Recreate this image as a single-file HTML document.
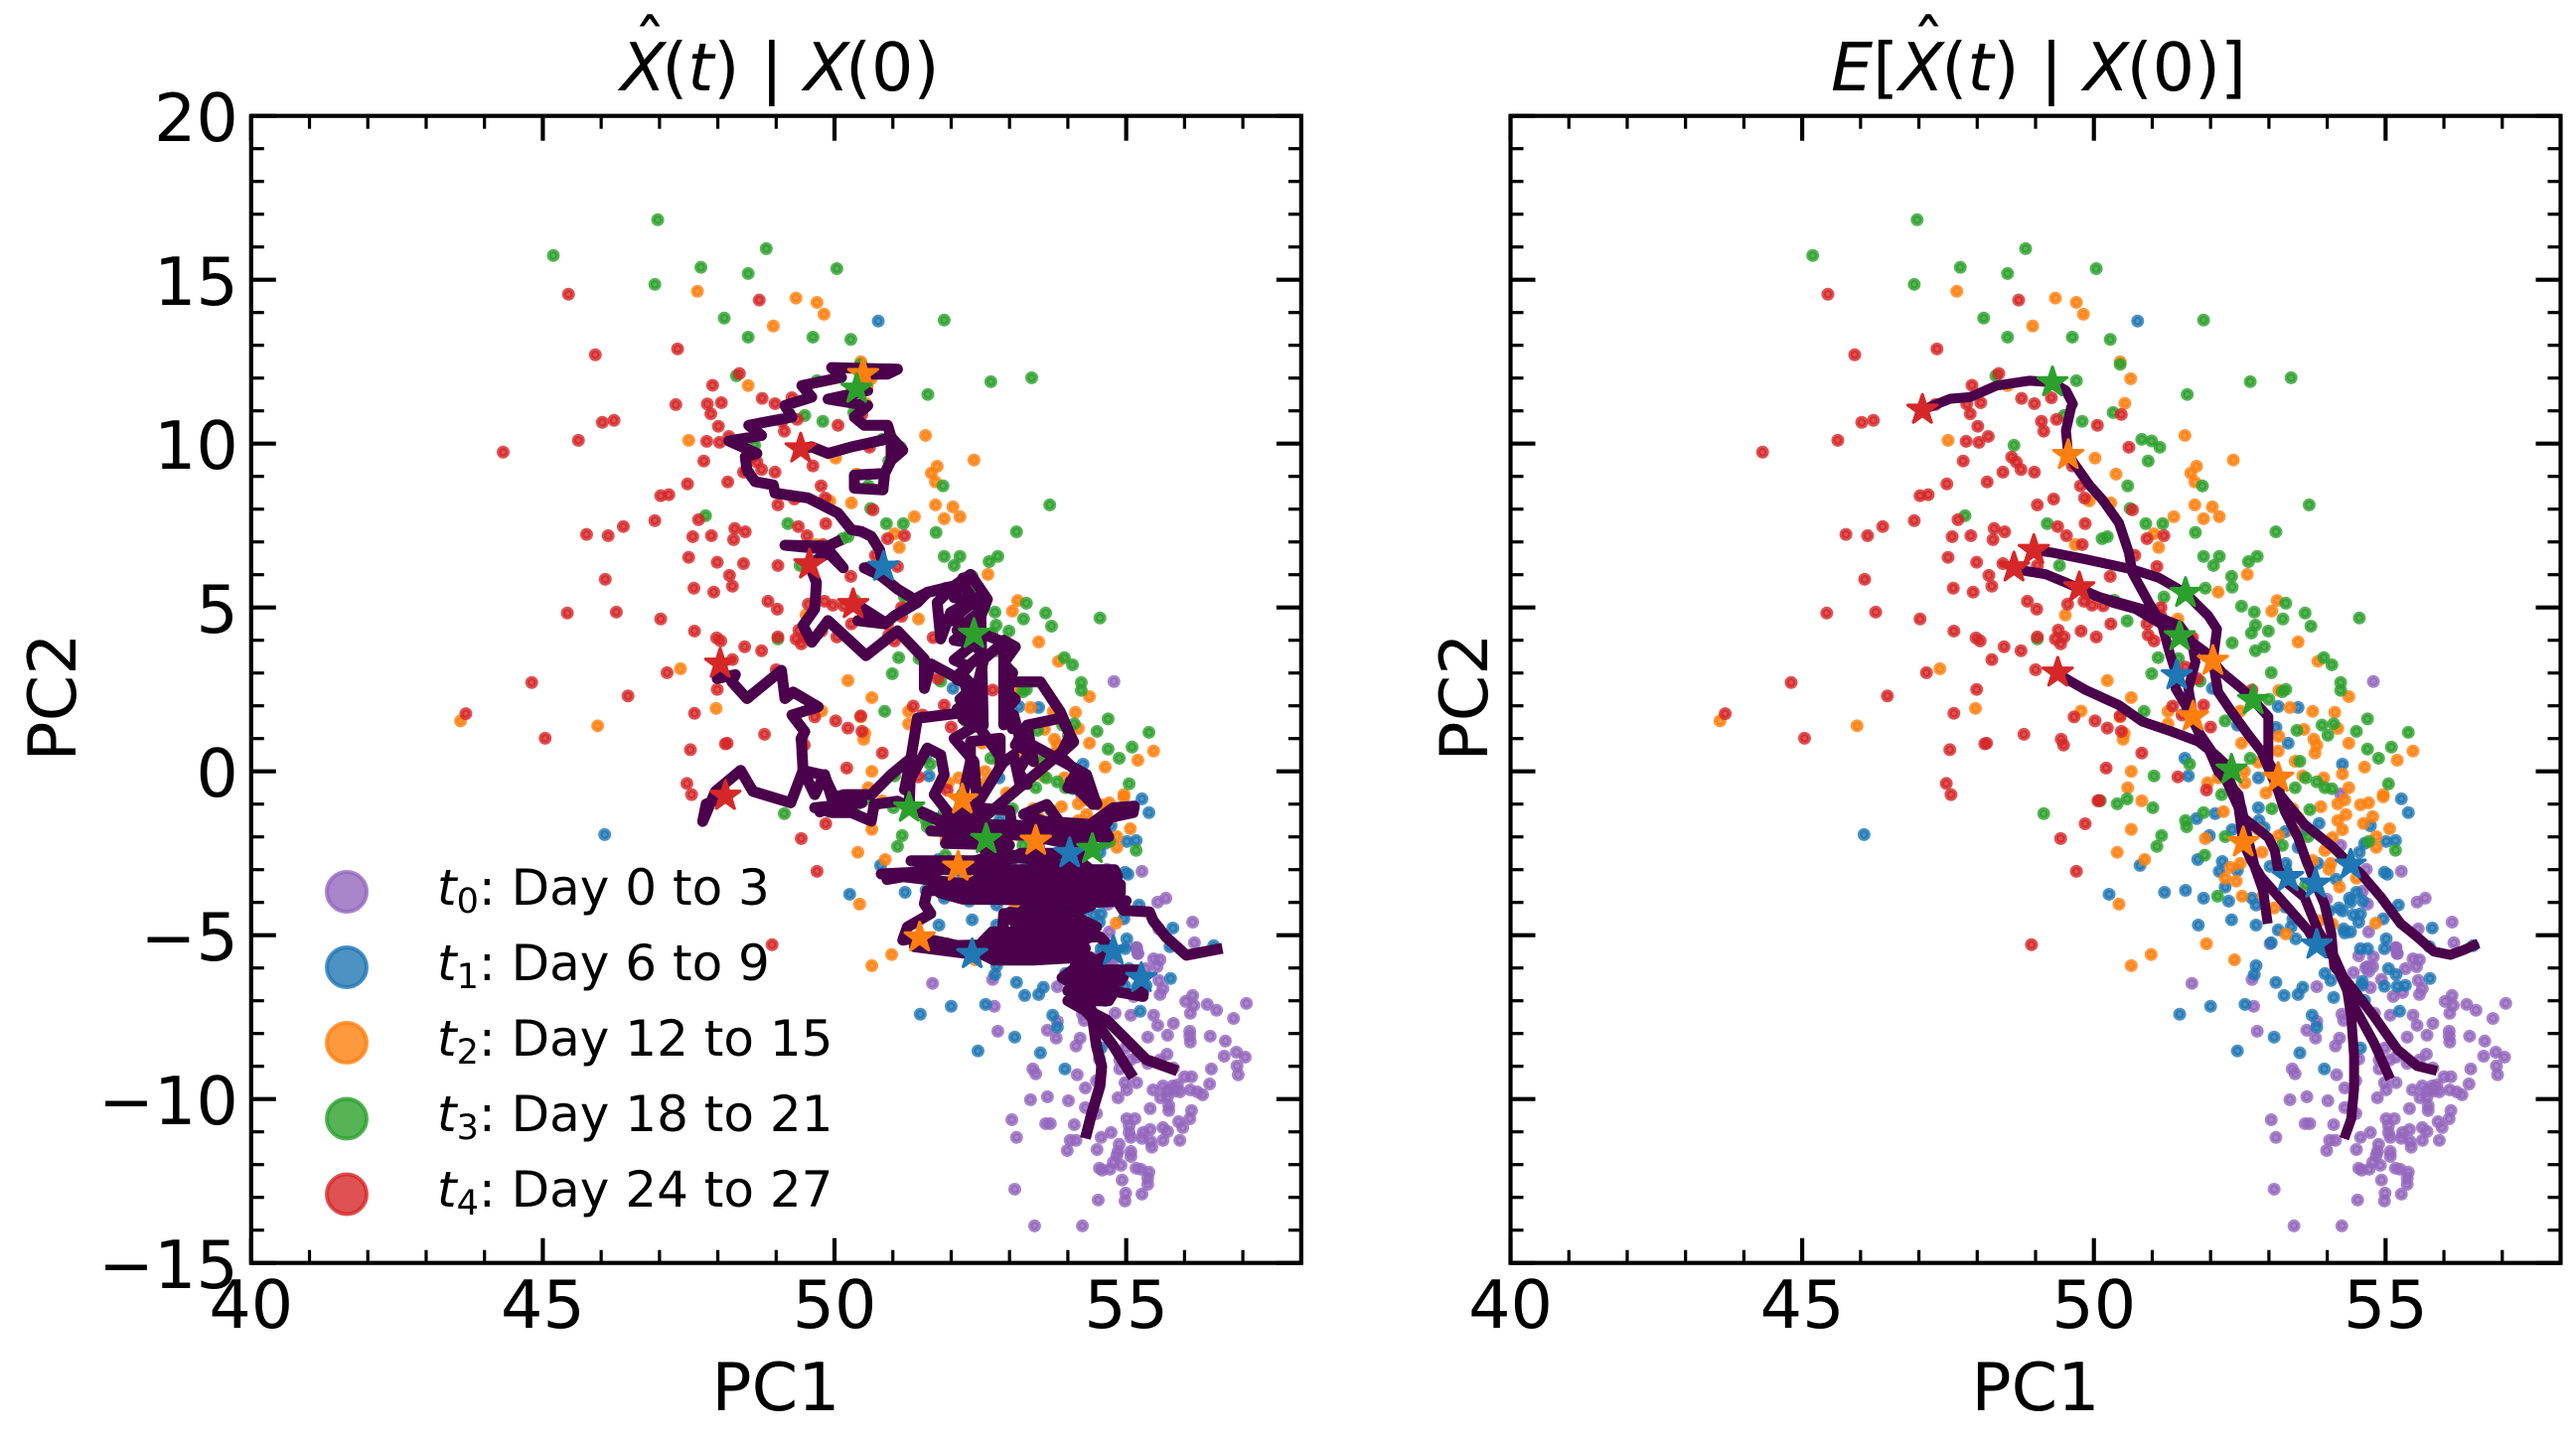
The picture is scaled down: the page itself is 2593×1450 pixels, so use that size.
<!DOCTYPE html>
<html lang="en">
<head>
<meta charset="utf-8">
<title>PC1 vs PC2 trajectories</title>
<style>
html,body{margin:0;padding:0;background:#fff;}
svg{display:block;}
text{font-family:"DejaVu Sans","Liberation Sans",sans-serif;fill:#000;}
.m{font-size:66.7px;}
.l{font-size:50px;}
</style>
</head>
<body>
<svg id="figure" xmlns="http://www.w3.org/2000/svg" width="2593" height="1450" viewBox="0 0 2593 1450">
<rect x="0" y="0" width="2593" height="1450" fill="#fff"/>
<g id="panel-left"></g>
<g id="panel-right"></g>

<text class="m" x="785" y="91" text-anchor="middle" xml:space="preserve"><tspan font-style="italic">X</tspan><tspan dx="-4">(</tspan><tspan font-style="italic">t</tspan>) | <tspan font-style="italic">X</tspan><tspan dx="-4">(</tspan>0)</text>
<text class="m" x="654" y="68" text-anchor="middle">ˆ</text>
<text class="m" x="2052" y="91" text-anchor="middle" xml:space="preserve"><tspan font-style="italic">E</tspan>[<tspan font-style="italic">X</tspan><tspan dx="-2.5">(</tspan><tspan font-style="italic">t</tspan>) | <tspan font-style="italic">X</tspan><tspan dx="-2.5">(</tspan>0)]</text>
<text class="m" x="1941" y="68" text-anchor="middle">ˆ</text>

<text class="m" x="781" y="1420" text-anchor="middle">PC1</text>
<text class="m" x="2049" y="1420" text-anchor="middle">PC1</text>
<text class="m" transform="translate(76 702) rotate(-90)" text-anchor="middle">PC2</text>
<text class="m" transform="translate(1497 702) rotate(-90)" text-anchor="middle">PC2</text>

<g id="legend">
  <circle cx="349" cy="898" r="20" fill="#9467bd" fill-opacity="0.8" stroke="#9467bd" stroke-opacity="0.8" stroke-width="4"/>
  <circle cx="349" cy="974" r="20" fill="#1f77b4" fill-opacity="0.8" stroke="#1f77b4" stroke-opacity="0.8" stroke-width="4"/>
  <circle cx="349" cy="1050" r="20" fill="#ff7f0e" fill-opacity="0.8" stroke="#ff7f0e" stroke-opacity="0.8" stroke-width="4"/>
  <circle cx="349" cy="1126.5" r="20" fill="#2ca02c" fill-opacity="0.8" stroke="#2ca02c" stroke-opacity="0.8" stroke-width="4"/>
  <circle cx="349" cy="1202.5" r="20" fill="#d62728" fill-opacity="0.8" stroke="#d62728" stroke-opacity="0.8" stroke-width="4"/>
  <text class="l" x="440" y="911" xml:space="preserve"><tspan font-style="italic">t</tspan><tspan font-size="35" dy="8">0</tspan><tspan dy="-8">: Day 0 to 3</tspan></text>
  <text class="l" x="440" y="987" xml:space="preserve"><tspan font-style="italic">t</tspan><tspan font-size="35" dy="8">1</tspan><tspan dy="-8">: Day 6 to 9</tspan></text>
  <text class="l" x="440" y="1063" xml:space="preserve"><tspan font-style="italic">t</tspan><tspan font-size="35" dy="8">2</tspan><tspan dy="-8">: Day 12 to 15</tspan></text>
  <text class="l" x="440" y="1139" xml:space="preserve"><tspan font-style="italic">t</tspan><tspan font-size="35" dy="8">3</tspan><tspan dy="-8">: Day 18 to 21</tspan></text>
  <text class="l" x="440" y="1215" xml:space="preserve"><tspan font-style="italic">t</tspan><tspan font-size="35" dy="8">4</tspan><tspan dy="-8">: Day 24 to 27</tspan></text>
</g>
</svg>
<script>
// ---- tick labels ----
const xTickValues = [40, 45, 50, 55];
const xTickLabels = ["40", "45", "50", "55"];
const yTickValues = [-15, -10, -5, 0, 5, 10, 15, 20];
const yTickLabels = ["\u221215", "\u221210", "\u22125", "0", "5", "10", "15", "20"];
const xMinorValues = [41,42,43,44,46,47,48,49,51,52,53,54,56,57];
const yMinorValues = [-14,-13,-12,-11,-9,-8,-7,-6,-4,-3,-2,-1,1,2,3,4,6,7,8,9,11,12,13,14,16,17,18,19];

// ---- scatter series (PC1, PC2) ----
const t0Points = [[51.68,-6.47],[52.71,-6.35],[52.74,-7.17],[52.80,-7.93],[53.82,-6.57],[54.25,-7.41],[54.28,-7.60],[53.82,-7.63],[53.65,-7.90],[53.80,-8.14],[54.21,-8.14],[54.14,-8.38],[54.54,-5.63],[54.79,-5.66],[55.20,-5.56],[55.17,-5.38],[55.47,-5.72],[55.58,-5.75],[55.53,-5.96],[55.34,-6.02],[54.66,-5.99],[54.78,-5.96],[54.71,-6.11],[54.45,-6.14],[54.93,-6.35],[55.56,-6.38],[55.63,-6.63],[55.58,-6.81],[55.29,-6.75],[55.13,-6.87],[54.74,-6.60],[56.14,-6.84],[56.02,-7.02],[56.16,-7.14],[56.10,-7.38],[56.39,-7.11],[56.55,-7.29],[57.06,-7.08],[56.84,-7.54],[55.08,-7.44],[54.81,-7.38],[55.47,-7.44],[55.54,-7.75],[55.81,-7.69],[55.71,-8.05],[55.37,-8.11],[56.09,-7.93],[56.09,-8.08],[56.10,-8.26],[56.44,-8.08],[56.70,-8.23],[56.89,-8.57],[57.04,-8.72],[56.68,-8.69],[56.90,-8.99],[56.92,-9.26],[56.46,-9.08],[56.43,-9.54],[55.70,-8.63],[55.58,-8.81],[55.81,-9.05],[55.07,-8.81],[55.18,-8.72],[55.37,-8.91],[54.99,-8.44],[54.89,-8.81],[54.89,-9.08],[54.54,-8.78],[54.16,-9.26],[54.30,-9.66],[54.49,-9.44],[54.98,-9.50],[55.18,-9.50],[55.01,-9.72],[54.86,-9.96],[53.45,-9.23],[53.40,-9.08],[53.36,-10.02],[53.65,-9.93],[54.01,-10.05],[54.30,-10.26],[54.49,-10.44],[53.04,-10.63],[53.12,-11.17],[53.62,-10.75],[53.70,-10.75],[54.11,-10.78],[54.04,-11.26],[54.14,-11.26],[53.99,-11.57],[54.57,-11.17],[54.74,-11.02],[54.50,-11.54],[54.88,-11.38],[54.86,-11.60],[54.84,-11.72],[55.08,-11.60],[55.08,-11.75],[54.78,-11.93],[54.91,-12.02],[54.54,-12.11],[54.59,-12.17],[54.72,-12.14],[55.17,-12.11],[55.25,-12.14],[55.39,-12.23],[55.37,-12.41],[55.37,-12.60],[54.93,-12.47],[54.99,-12.87],[54.98,-13.11],[55.27,-12.90],[54.52,-13.08],[53.09,-12.75],[53.43,-13.87],[54.25,-13.87],[55.01,-10.60],[55.15,-10.60],[55.05,-10.81],[55.05,-11.02],[55.08,-11.17],[55.29,-11.02],[55.27,-11.20],[55.41,-10.93],[55.42,-11.29],[55.44,-11.47],[55.63,-10.87],[55.71,-10.99],[55.63,-11.26],[55.92,-11.26],[55.90,-10.69],[55.97,-10.87],[56.09,-10.60],[56.12,-10.35],[55.41,-10.29],[55.73,-10.35],[55.73,-10.20],[55.46,-9.72],[55.63,-9.60],[55.80,-9.60],[55.88,-9.57],[55.71,-9.75],[55.83,-9.75],[55.92,-9.78],[55.59,-9.96],[55.71,-9.93],[56.00,-9.32],[56.12,-9.32],[56.10,-9.72],[56.22,-9.78],[56.31,-9.87],[54.23,-0.69],[54.23,-2.26],[54.67,-2.99],[55.27,-3.05],[54.60,-3.66],[54.69,-4.05],[53.99,-3.90],[55.54,-3.99],[55.68,-3.87],[56.14,-4.60],[55.56,-4.81],[54.71,-4.90],[56.17,-5.23],[53.02,-5.26],[54.79,2.74],[55.20,-5.56],[55.18,-5.38],[54.69,-5.96]];
const t1Points = [[50.75,13.74],[46.06,-1.93],[52.03,2.53],[53.16,1.98],[53.50,1.95],[53.12,1.34],[53.33,0.86],[52.46,1.41],[51.56,0.40],[51.62,-0.14],[52.82,-0.20],[54.26,0.22],[55.27,-0.84],[55.39,-1.26],[52.82,-1.11],[51.76,-1.44],[52.08,-1.29],[52.83,-1.50],[52.92,-1.72],[52.37,-1.78],[51.98,-1.96],[51.78,-2.69],[52.20,-2.75],[52.15,-3.05],[52.46,-3.02],[52.25,-3.53],[50.79,-2.87],[50.26,-3.75],[51.21,-3.69],[51.57,-3.63],[51.88,-3.87],[52.31,-3.96],[52.71,-3.87],[52.78,-4.08],[51.79,-4.69],[52.36,-4.53],[52.78,-4.69],[53.16,-4.84],[53.38,-4.75],[53.41,-4.50],[53.46,-5.11],[53.04,-5.23],[53.28,-4.14],[53.86,-1.59],[53.62,-1.78],[53.28,-1.84],[53.50,-2.32],[53.02,-2.90],[53.29,-2.81],[53.84,-2.81],[54.15,-3.29],[54.55,-2.47],[54.64,-2.20],[54.74,-1.66],[55.01,-2.14],[55.17,-2.11],[54.98,-3.08],[55.03,-3.14],[54.38,-3.87],[54.50,-3.69],[54.40,-3.99],[54.61,-3.96],[55.22,-4.08],[54.20,-4.17],[54.26,-4.26],[54.03,-4.26],[54.45,-4.38],[54.57,-4.35],[54.54,-4.60],[54.96,-4.50],[54.28,-4.81],[54.30,-4.93],[54.40,-4.90],[55.80,-4.78],[55.01,-5.11],[54.57,-5.41],[54.69,-5.41],[54.98,-5.41],[56.50,-5.32],[55.75,-5.35],[52.78,-5.93],[52.75,-6.20],[53.12,-6.44],[53.58,-6.59],[53.50,-6.81],[53.26,-6.84],[53.96,-6.17],[54.06,-6.38],[54.11,-6.90],[55.05,-6.02],[55.18,-6.20],[54.60,-6.41],[54.59,-6.53],[54.98,-6.56],[55.20,-6.56],[55.34,-6.53],[55.76,-6.32],[54.64,-6.99],[55.24,-7.32],[52.59,-7.11],[52.00,-7.17],[51.47,-7.41],[53.74,-7.44],[53.82,-7.81],[53.09,-8.11],[52.46,-8.53],[53.53,-8.59],[54.57,-8.44],[53.95,-9.08]];
const t2Points = [[47.65,14.65],[49.34,14.44],[49.70,14.31],[49.82,13.95],[48.95,13.59],[48.52,11.77],[47.50,10.10],[49.68,6.92],[49.51,4.77],[47.36,3.13],[43.59,1.54],[45.94,1.39],[47.97,1.92],[50.45,12.50],[50.63,11.98],[50.53,11.23],[51.56,10.25],[52.39,9.50],[50.02,9.56],[50.38,9.07],[51.76,9.31],[51.66,9.10],[51.73,8.83],[50.29,8.19],[49.92,8.25],[51.73,8.13],[52.03,8.07],[51.88,7.71],[52.15,7.77],[51.37,7.77],[51.03,7.25],[51.11,6.83],[52.63,6.01],[52.13,5.47],[53.14,5.21],[53.05,4.89],[51.44,4.65],[53.50,3.95],[53.84,3.36],[50.23,2.77],[53.17,2.47],[50.64,2.25],[54.37,2.28],[53.36,1.95],[53.75,1.83],[54.13,1.80],[49.78,1.84],[51.27,1.83],[50.45,1.66],[52.51,1.84],[51.27,1.45],[53.60,1.28],[54.18,1.31],[50.52,1.16],[50.50,0.98],[53.17,1.07],[52.53,0.86],[53.77,0.98],[53.82,0.80],[53.79,0.56],[53.16,0.62],[54.37,0.86],[55.20,0.34],[55.47,0.62],[54.64,0.13],[54.26,-0.08],[53.45,0.31],[52.82,0.28],[52.58,0.00],[50.64,0.00],[50.58,-0.50],[51.95,-0.35],[53.58,-0.14],[53.94,-0.20],[54.37,-0.50],[54.96,-0.71],[52.13,-0.20],[52.59,-0.35],[52.95,-0.66],[50.82,-0.90],[50.64,-1.77],[50.40,-2.47],[50.87,-2.69],[50.43,-4.05],[51.93,-5.26],[50.98,-5.59],[50.64,-5.93],[52.41,-5.75],[52.22,-1.23],[51.91,-2.05],[52.34,-2.93],[52.51,-2.81],[52.25,-3.26],[52.44,-3.35],[52.54,-3.81],[52.88,-2.47],[52.90,-3.78],[53.09,-4.17],[53.29,-4.96],[53.17,-1.96],[53.45,-1.84],[53.50,-1.41],[53.89,-1.08],[54.18,-0.99],[54.30,-0.87],[54.32,-1.32],[54.18,-1.50],[54.26,-1.78],[54.09,-2.02],[53.96,-2.41],[53.75,-2.72],[54.06,-2.81],[54.03,-2.99],[54.50,-3.26],[54.21,-3.53],[54.57,-1.02],[54.71,-0.96],[54.96,-0.78],[54.62,-1.59],[54.78,-1.38],[55.07,-1.75],[54.84,-1.99],[54.84,-2.32],[54.83,-4.63],[54.09,-4.66],[53.86,-4.56],[53.41,-1.14],[52.82,-1.78]];
const t3Points = [[46.97,16.83],[45.18,15.74],[48.83,15.95],[47.71,15.38],[48.52,15.19],[46.92,14.86],[48.11,13.83],[48.52,13.25],[49.63,13.25],[48.32,12.07],[49.70,11.92],[49.49,10.86],[49.80,10.68],[48.63,9.95],[47.79,7.80],[49.20,7.56],[49.41,6.28],[49.03,4.04],[50.04,15.34],[51.88,13.77],[50.28,13.18],[50.45,12.42],[51.60,11.50],[52.68,11.89],[53.38,12.01],[50.33,10.95],[50.82,10.13],[50.99,10.08],[51.13,9.89],[50.93,9.47],[51.86,8.71],[50.58,8.71],[50.62,8.02],[53.69,8.13],[50.89,7.56],[51.18,7.56],[51.74,7.29],[53.12,7.31],[50.14,7.10],[50.23,7.16],[51.88,6.56],[52.15,6.56],[52.05,6.28],[52.65,6.40],[52.80,6.56],[52.36,5.95],[51.91,5.59],[52.37,5.62],[51.20,5.32],[52.53,5.04],[53.29,5.13],[52.75,4.86],[53.24,4.65],[53.62,4.83],[53.72,4.43],[52.77,4.46],[52.99,4.28],[52.70,4.22],[54.55,4.68],[50.57,4.59],[50.35,5.22],[52.37,3.92],[52.92,3.80],[52.77,3.68],[51.10,3.47],[53.94,3.47],[54.08,3.25],[50.99,2.98],[53.04,3.01],[54.23,2.71],[54.23,2.47],[53.29,2.50],[53.23,2.43],[53.00,2.20],[50.86,1.83],[52.25,1.54],[53.48,1.25],[53.91,1.41],[54.11,1.45],[54.01,1.10],[54.50,1.22],[54.69,1.60],[55.39,1.19],[54.69,0.68],[55.10,0.74],[54.88,0.40],[52.68,0.40],[53.53,0.31],[51.64,0.22],[51.03,-0.14],[55.05,-0.38],[53.63,-0.20],[53.82,-0.32],[53.96,-0.50],[54.08,-0.53],[53.45,-0.50],[51.82,2.75],[51.45,3.44],[49.14,-1.29],[50.11,-0.90],[50.40,-0.99],[50.57,-0.84],[51.01,-1.11],[51.16,-1.96],[51.08,-2.29],[51.57,-1.50],[51.59,-1.69],[51.88,-1.26],[52.25,-1.99],[51.90,-2.56],[52.12,-3.81],[53.05,-1.14],[53.70,-1.17],[53.23,-2.26],[53.67,-1.99],[54.71,-2.14],[55.17,-2.41],[53.63,-3.46],[52.19,-0.71]];
const t4Points = [[45.44,14.56],[45.90,12.71],[47.31,12.89],[48.71,14.38],[48.37,12.14],[47.91,11.78],[48.06,11.25],[47.82,11.21],[47.88,10.91],[47.28,11.19],[48.76,11.38],[48.98,11.22],[49.27,11.40],[49.10,10.68],[49.36,10.74],[49.14,10.38],[48.01,10.53],[48.19,10.22],[47.81,10.07],[48.03,10.04],[46.02,10.65],[46.22,10.71],[45.61,10.10],[44.32,9.74],[47.76,9.47],[48.59,9.59],[48.67,9.44],[48.75,9.21],[48.44,9.13],[48.98,9.13],[48.17,8.83],[47.48,8.77],[47.02,8.41],[47.16,8.44],[49.31,8.31],[49.03,8.13],[49.63,9.32],[49.77,8.71],[49.84,8.34],[46.92,7.65],[47.67,7.68],[46.38,7.47],[45.75,7.23],[46.12,7.19],[47.57,7.16],[47.89,7.19],[48.29,7.41],[48.47,7.31],[48.27,7.07],[49.38,7.47],[49.53,7.19],[49.85,7.56],[49.80,6.92],[47.50,6.53],[47.99,6.38],[48.44,6.34],[49.03,6.28],[48.20,5.98],[46.07,5.86],[47.59,5.59],[48.25,5.65],[47.93,5.47],[49.55,5.10],[49.83,5.19],[48.86,5.19],[49.02,4.95],[45.42,4.83],[46.26,4.86],[47.02,4.65],[47.60,4.28],[47.98,4.07],[48.05,3.98],[49.03,4.10],[49.39,4.31],[49.49,4.10],[49.34,4.04],[49.43,3.89],[49.78,4.28],[48.46,3.80],[48.75,3.68],[48.25,3.41],[49.00,3.10],[47.13,3.01],[44.81,2.71],[47.99,2.50],[46.46,2.30],[50.47,10.89],[50.06,10.56],[50.60,9.89],[50.66,7.98],[51.20,7.19],[50.91,7.10],[50.70,6.59],[51.08,6.25],[50.28,5.95],[49.97,5.07],[50.16,5.05],[51.15,5.00],[51.15,4.73],[50.29,4.50],[50.91,4.50],[50.93,4.16],[51.03,3.98],[50.04,4.10],[51.69,4.08],[51.57,3.18],[51.77,2.83],[51.35,1.99],[51.88,2.02],[51.51,1.72],[50.45,1.69],[49.66,1.66],[50.02,1.54],[50.23,1.32],[50.47,1.22],[52.00,1.35],[48.80,1.13],[49.44,0.98],[49.48,0.80],[48.16,0.86],[50.82,0.56],[50.21,0.10],[51.44,-0.17],[52.71,2.48],[51.93,-0.57],[45.04,1.01],[47.53,0.66],[48.13,0.84],[47.47,-0.37],[47.55,-0.71],[50.09,-0.89],[50.07,-0.90],[49.85,-1.60],[49.43,-2.05],[49.70,-3.05],[48.93,-5.29],[43.68,1.76],[47.60,1.77]];

// ---- sampled trajectories, left panel ----
const leftPathA = [[54.30,-11.2],[54.40,-10.5],[54.55,-9.6],[54.58,-9.0],[54.49,-8.38],[54.41,-7.37],[54.15,-6.97],[54.49,-6.06],[55.20,-6.06],[55.26,-6.31],[55.29,-6.87],[54.66,-6.67],[54.10,-6.85],[54.21,-6.06],[54.55,-5.76],[53.90,-5.60],[54.38,-5.05],[53.6,-5.0],[54.0,-4.4],[53.2,-4.3],[53.45,-3.85],[54.6,-3.9],[53.7,-3.4],[54.4,-3.2],[53.45,-2.6],[53.45,-2.12],[54.0,-1.9],[53.64,-1.01],[53.24,-1.31],[53.58,-1.52],[54.38,-1.62],[54.55,-1.92],[54.72,-1.41],[55.12,-1.26],[55.14,-1.06],[54.78,-1.11],[54.38,-1.62],[54.42,-2.37],[53.9,-2.9],[52.9,-2.5],[52.45,-1.11],[51.93,-1.62],[51.59,-1.31],[51.08,-0.91],[50.68,-1.01],[50.63,-1.52],[50.29,-1.26],[49.95,-1.26],[49.66,-1.11],[50.47,-0.96],[50.04,-0.96],[49.75,-1.24],[50.04,-0.96],[49.82,-0.12],[49.46,0.03],[49.25,-0.96],[48.60,-0.61],[48.39,0.03],[47.96,-0.61],[47.74,-1.53],[47.80,-1.0],[48.13,-0.75]];
const leftPathB = [[55.12,-9.34],[54.78,-8.38],[54.49,-7.68],[54.2,-7.1],[54.5,-6.4],[54.1,-6.2],[54.78,-5.48],[54.55,-5.05],[53.2,-5.1],[52.62,-5.15],[53.4,-4.8],[54.2,-5.3],[53.41,-5.5],[52.73,-5.5],[52.2,-5.35],[51.46,-5.07],[51.17,-5.15],[51.25,-4.75],[51.65,-4.34],[51.54,-4.04],[51.59,-3.64],[53,-3.6],[54.78,-3.49],[53,-3.3],[52.60,-2.07],[51.93,-1.62],[51.93,-1.21],[51.71,-0.71],[51.88,-0.10],[51.82,0.5],[51.59,0.71],[51.37,0],[51.2,-0.56],[51.31,0.4],[50.97,-0.10],[50.63,-0.71],[50.17,-0.71],[49.95,-0.81],[49.83,-0.1],[49.66,-0.71],[49.46,0.03],[49.43,1.01],[49.49,1.21],[49.27,1.72],[49.72,1.97],[49.29,2.42],[49.15,2.22],[49.09,3.08],[48.50,2.22],[48.24,2.73],[48.3,2.95],[47.99,2.83],[48.04,3.28]];
const leftPathC = [[55.88,-9.14],[55.34,-8.79],[55.00,-8.18],[54.66,-7.58],[54.43,-7.37],[54.2,-6.6],[53.9,-6.3],[54.38,-5.66],[53.41,-5.76],[52.73,-5.76],[52.39,-5.45],[52.36,-5.58],[51.37,-5.35],[52.39,-5.3],[53.5,-5.4],[54.3,-5.4],[53.2,-5.0],[53.0,-4.3],[53.87,-4.44],[54.49,-4.75],[53.87,-4.2],[53.18,-3.84],[54.95,-3.94],[53.2,-3.6],[51.71,-3.33],[50.80,-3.13],[51.71,-3.05],[50.9,-3.3],[52.12,-2.91],[51.31,-2.73],[52.45,-2.73],[53.5,-2.6],[54.42,-2.37],[53.2,-1.9],[51.65,-1.82],[53.07,-1.92],[53.0,-1.2],[52.45,-1.11],[52.39,0.30],[52.05,1.0],[52.45,1.42],[52.33,2.12],[52.22,2.73],[51.65,3.28],[51.54,2.53],[51.54,3.43],[51.08,4.29],[50.54,3.53],[49.89,4.6],[49.61,3.94],[49.46,4.45],[49.66,4.95],[49.69,5.76],[49.57,6.31],[49.89,6.67],[50.15,6.21],[49.89,6.77],[49.15,6.90],[49.89,6.87],[50.12,7.07]];
const leftPathD = [[53.8,-4.6],[53.18,-4.34],[52.9,-4.34],[52.85,-5.66],[52.9,-4.5],[53.87,-4.7],[54.49,-4.75],[54.4,-4.9],[52.7,-4.9],[52.4,-5.45],[54.2,-5.45],[54.1,-6.1],[55.0,-6.1],[54.9,-6.4],[54.1,-6.4],[54.0,-6.7],[54.8,-6.7],[54.7,-7.0],[54.0,-7.0],[54.4,-7.4],[54.3,-6.2],[53.8,-4.5],[54.4,-4.1],[53.4,-4.1],[55.0,-3.95],[52.2,-3.9],[51.8,-3.7],[54.9,-3.7],[54.9,-3.45],[52.3,-3.45],[52.5,-3.25],[54.85,-3.2],[54.8,-3.0],[51.9,-3.0],[52.85,-2.5],[53.0,-2.25],[51.9,-2.2],[52.0,-1.9],[54.7,-2.0],[54.6,-1.7],[51.82,-1.6],[52.45,-1.0],[52.9,0.3],[52.5,1.3],[52.2,1.6],[52.45,2.0],[52.15,2.2],[52.4,2.6],[52.1,2.8],[52.3,3.2],[52.05,3.4],[52.4,3.9],[52.05,4.0],[52.45,4.5],[52.0,4.6],[52.4,5.2],[52.05,5.3],[52.2,5.9],[52.25,5.6],[52.5,4.9],[52.1,4.3],[52.55,3.6],[52.15,3.0],[52.5,2.4],[52.1,1.9],[52.55,1.4],[52.5,5.35],[51.99,4.85],[51.82,4.04],[51.76,5.15],[52.05,5.66],[51.59,5.46],[51.37,5.25],[51.08,5.56],[50.80,5.96],[50.51,6.21],[50.84,6.24],[50.77,6.77],[50.63,7.17],[50.46,7.32],[50.29,7.37],[50.06,7.88],[49.55,8.34],[48.98,8.49],[48.95,8.74],[48.64,8.84],[48.50,9.19],[48.47,9.60],[48.67,9.70],[48.19,10.08],[48.75,10.25],[48.53,10.56],[49.27,10.81],[49.15,11.16],[49.61,11.42],[49.44,11.77],[50.12,12.02],[49.95,12.32],[51.08,12.27],[50.91,12.12],[50.49,12.12],[50.38,11.67],[50.57,11.62],[49.89,11.36],[50.57,11.16],[50.34,10.81],[50.51,10.56],[50.91,10.56],[50.97,10.20],[51.17,9.80],[50.97,9.49],[50.86,9.09],[50.34,9.04],[50.34,8.64],[50.83,8.59],[50.86,9.09],[50.97,9.49],[50.97,10.20],[50.80,10.10],[50.29,9.90],[49.89,9.70],[49.61,9.90],[49.42,9.85]];
const leftPathE = [[56.65,-5.40],[56.03,-5.61],[55.68,-5.05],[55.46,-4.55],[55.40,-4.29],[54.95,-4.24],[54.6,-3.3],[54.03,-2.50],[53.2,-2.5],[52.7,-2.9],[52.19,-0.86],[52.33,0.3],[52.33,0.91],[52.84,1.01],[52.84,0.2],[53.07,0.5],[53.18,-0.4],[53.3,-0.4],[53.15,0],[53.35,0.6],[53.1,0.8],[53.3,1.4],[53.41,0.3],[53.3,1.41],[53.87,1.62],[53.9,1.6],[54.1,0.9],[53.85,0.5],[54.15,0],[54.0,-0.5],[54.4,-0.6],[54.5,-1.0],[54.04,-0.3],[54.43,-1.01],[54.21,0],[54.49,-1.01],[54.32,-0.1],[53.18,1.01],[53.07,1.72],[53.05,1.3],[52.9,1.8],[53.1,2.2],[52.9,2.5],[53.05,3.0],[52.9,3.3],[53.1,3.8],[52.9,4.0],[52.9,3.94],[52.9,1.42],[53.01,2.83],[53.07,2.73],[53.53,2.73],[53.87,1.82],[54.04,1.11],[53.9,0.6],[52.5,-1.5],[51.93,-1.62],[51.28,-1.11],[51.31,0.4],[51.42,1.62],[52.33,1.82],[52.45,2.63],[52.56,3.43],[52.9,3.94],[52.62,4.14],[52.39,4.19],[52.62,5.25],[52.33,6.01],[52.05,5.66],[51.59,5.46],[51.42,5.15],[51.03,4.75],[50.86,4.5],[50.40,4.6],[50.86,4.55],[50.46,5.0],[50.32,5.10]];

// ---- mean trajectories, right panel ----
const rightPathA = [[54.29,-11.21],[54.41,-10.61],[54.46,-9.70],[54.46,-8.69],[54.41,-7.47],[54.32,-6.46],[54.12,-5.66],[53.82,-5.29],[53.67,-4.85],[53.27,-4.04],[52.87,-3.23],[52.70,-2.73],[52.56,-2.17],[52.48,-1.11],[52.25,-0.20],[52.36,0.05],[52.08,0.51],[51.79,0.91],[51.34,1.21],[50.83,1.52],[50.43,2.02],[49.86,2.48],[49.52,2.83],[49.38,3.01]];
const rightPathB = [[55.08,-9.39],[54.80,-8.28],[54.46,-7.17],[54.26,-6.36],[54.07,-5.55],[53.84,-4.85],[53.61,-3.84],[53.33,-3.43],[53.33,-3.23],[53.16,-3.03],[53.10,-2.42],[52.99,-2.02],[52.56,-1.41],[52.48,-0.71],[52.13,0.0],[51.96,0.71],[51.79,1.21],[51.70,1.67],[51.62,2.53],[51.74,3.34],[51.68,3.94],[51.47,4.12],[51.11,4.54],[50.72,4.95],[50.32,5.15],[49.92,5.45],[49.52,5.76],[49.18,6.01],[48.84,6.11],[48.63,6.22]];
const rightPathC = [[52.98,-4.65],[52.90,-3.64],[52.76,-2.93],[52.65,-2.12],[52.53,-1.11],[52.31,-0.20],[52.02,0.61],[51.79,1.21],[51.57,2.02],[51.40,2.53],[51.42,2.93],[51.31,3.54],[51.17,4.45],[50.94,5.15],[50.66,6.06],[50.60,6.67],[50.43,7.58],[50.15,8.28],[49.92,8.74],[49.56,9.65],[49.52,10.40],[49.61,11.11],[49.64,11.21],[49.52,11.62],[49.29,11.87],[48.90,11.92],[48.33,11.77],[47.88,11.42],[47.54,11.37],[47.06,11.03]];
const rightPathD = [[55.88,-9.14],[55.54,-8.99],[55.20,-8.48],[54.80,-7.47],[54.41,-6.57],[54.12,-5.96],[54.07,-4.95],[53.95,-4.04],[53.80,-3.43],[53.64,-2.73],[53.50,-2.02],[53.27,-1.21],[53.16,-0.61],[52.87,0.61],[52.65,1.11],[52.36,1.82],[52.13,2.42],[52.08,2.93],[52.04,3.37],[52.11,4.34],[51.96,4.75],[51.79,5.05],[51.57,5.44],[51.11,5.91],[50.66,6.16],[49.86,6.47],[49.30,6.67],[48.97,6.75]];
const rightPathE = [[56.59,-5.25],[56.34,-5.45],[56.11,-5.60],[55.83,-5.50],[55.54,-5.05],[55.26,-4.65],[54.92,-3.84],[54.58,-3.13],[54.40,-2.85],[54.07,-2.27],[53.61,-1.62],[53.19,-0.71],[53.16,-0.20],[52.99,0.30],[52.99,1.67],[52.73,2.17],[52.53,2.53],[52.19,3.03],[51.91,3.64],[51.68,3.94],[51.47,4.45],[51.11,4.70],[50.83,4.95],[50.43,5.15],[50.03,5.35],[49.75,5.61]];

// ---- star markers (PC1, PC2) ----
const leftStarsT1 = [[50.84,6.24],[54.03,-2.50],[52.36,-5.58],[54.78,-5.48],[55.26,-6.31]];
const leftStarsT2 = [[50.49,12.12],[52.19,-0.86],[53.45,-2.12],[52.12,-2.91],[51.46,-5.07]];
const leftStarsT3 = [[50.38,11.67],[52.39,4.19],[51.28,-1.11],[52.60,-2.07],[54.42,-2.37]];
const leftStarsT4 = [[49.42,9.85],[49.57,6.31],[50.32,5.10],[48.04,3.28],[48.13,-0.75]];
const rightStarsT1 = [[51.42,2.93],[53.33,-3.23],[53.80,-3.43],[54.40,-2.85],[53.82,-5.29]];
const rightStarsT2 = [[49.56,9.65],[52.04,3.37],[51.70,1.67],[53.16,-0.20],[52.56,-2.17]];
const rightStarsT3 = [[49.29,11.87],[51.57,5.44],[51.47,4.12],[52.73,2.17],[52.36,0.05]];
const rightStarsT4 = [[47.06,11.03],[48.97,6.75],[48.63,6.22],[49.75,5.61],[49.38,3.01]];

const SVGNS = "http://www.w3.org/2000/svg";
const PANEL_W = 1057, PANEL_TOP = 116.7, PANEL_BOTTOM = 1271.7;
const XMIN = 40, XMAX = 58, YMIN = -15, YMAX = 20;

function mk(tag, attrs, parent) {
  const el = document.createElementNS(SVGNS, tag);
  for (const k in attrs) el.setAttribute(k, attrs[k]);
  parent.appendChild(el);
  return el;
}
function scaleY(v) { return PANEL_BOTTOM - (v - YMIN) / (YMAX - YMIN) * (PANEL_BOTTOM - PANEL_TOP); }

function drawPanel(root, prefix, left, showYLabels, paths, lineWidth, stars) {
  const scaleX = v => left + (v - XMIN) / (XMAX - XMIN) * PANEL_W;
  const right = left + PANEL_W;

  // scatter series
  const series = [[t0Points,"#9467bd","t0"],[t1Points,"#1f77b4","t1"],[t2Points,"#ff7f0e","t2"],[t3Points,"#2ca02c","t3"],[t4Points,"#d62728","t4"]];
  series.forEach(s => {
    const g = mk("g", {}, root);
    
    
    s[0].forEach(p => {
      const c = mk("circle", {cx: scaleX(p[0]).toFixed(2), cy: scaleY(p[1]).toFixed(2), r: 4.3, fill: s[1], "fill-opacity": 0.8, stroke: s[1], "stroke-opacity": 0.8, "stroke-width": 4.4}, g);
      
      
    });
  });

  // trajectories
  paths.forEach(path => {
    const d = path.map(p => scaleX(p[0]).toFixed(2) + "," + scaleY(p[1]).toFixed(2)).join(" ");
    const line = mk("polyline", {points: d, fill: "none", stroke: "#4a004a", "stroke-width": lineWidth, "stroke-linejoin": "round", "stroke-linecap": "butt"}, root);
    
    
  });

  // stars
  const starColors = ["#1f77b4","#ff7f0e","#2ca02c","#d62728"];
  stars.forEach((list, i) => {
    list.forEach(p => {
      const cx = scaleX(p[0]), cy = scaleY(p[1]);
      const pts = [];
      for (let k = 0; k < 10; k++) {
        const rad = k % 2 === 0 ? 15.5 : 5.92;
        const a = -Math.PI / 2 + k * Math.PI / 5;
        pts.push((cx + rad * Math.cos(a)).toFixed(2) + "," + (cy + rad * Math.sin(a)).toFixed(2));
      }
      const star = mk("polygon", {points: pts.join(" "), fill: starColors[i], stroke: starColors[i], "stroke-width": 3, "stroke-linejoin": "round"}, root);
      
      
    });
  });

  // frame
  const frame = mk("rect", {x: left, y: PANEL_TOP, width: PANEL_W, height: PANEL_BOTTOM - PANEL_TOP, fill: "none", stroke: "#000", "stroke-width": 4.17}, root);
  
  

  // ticks
  const tickGroup = mk("g", {stroke: "#000"}, root);
  
  
  const seg = (x1, y1, x2, y2, w) => mk("line", {x1: x1, y1: y1, x2: x2, y2: y2, "stroke-width": w}, tickGroup);
  xTickValues.forEach(v => { const x = scaleX(v); seg(x, PANEL_BOTTOM, x, PANEL_BOTTOM - 25, 4.17); seg(x, PANEL_TOP, x, PANEL_TOP + 25, 4.17); });
  xMinorValues.forEach(v => { const x = scaleX(v); seg(x, PANEL_BOTTOM, x, PANEL_BOTTOM - 13, 3.2); seg(x, PANEL_TOP, x, PANEL_TOP + 13, 3.2); });
  yTickValues.forEach(v => { const y = scaleY(v); seg(left, y, left + 25, y, 4.17); seg(right, y, right - 25, y, 4.17); });
  yMinorValues.forEach(v => { const y = scaleY(v); seg(left, y, left + 13, y, 3.2); seg(right, y, right - 13, y, 3.2); });

  // tick labels
  xTickValues.forEach((v, i) => {
    const t = mk("text", {x: scaleX(v), y: 1337, "text-anchor": "middle", "class": "m"}, root);
    t.textContent = xTickLabels[i];
    
    
  });
  if (showYLabels) {
    yTickValues.forEach((v, i) => {
      const t = mk("text", {x: left - 13, y: scaleY(v) + 25.5, "text-anchor": "end", "class": "m"}, root);
      t.textContent = yTickLabels[i];
      
      
    });
  }
}

drawPanel(document.getElementById("panel-left"), "left", 252.8, true,
  [leftPathA, leftPathB, leftPathC, leftPathD, leftPathE], 11,
  [leftStarsT1, leftStarsT2, leftStarsT3, leftStarsT4]);
drawPanel(document.getElementById("panel-right"), "right", 1520.5, false,
  [rightPathA, rightPathB, rightPathC, rightPathD, rightPathE], 10,
  [rightStarsT1, rightStarsT2, rightStarsT3, rightStarsT4]);
</script>
</body>
</html>
